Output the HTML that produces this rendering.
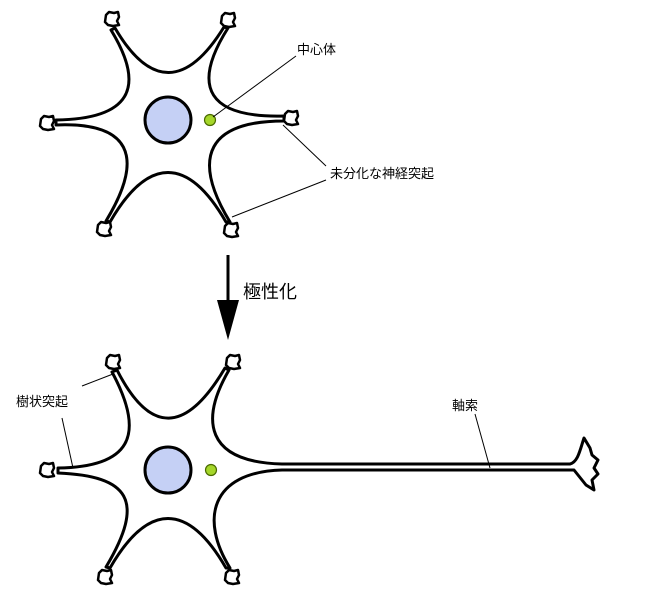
<!DOCTYPE html>
<html><head><meta charset="utf-8"><style>
html,body{margin:0;padding:0;background:#fff;width:647px;height:599px;overflow:hidden}
svg{display:block}
text{font-family:"Liberation Sans","Noto Sans CJK JP",sans-serif;fill:#000}
</style></head><body>
<svg width="647" height="599" viewBox="0 0 647 599" xmlns="http://www.w3.org/2000/svg">
<defs>
<path id="b" d="M-6,-4 L-3,-7 L2,-6 L6,-7 L7,-2 L5,2 L7,6 L1,7 L-4,6 L-7,3 Z" fill="#fff" stroke="#000" stroke-width="2.5" stroke-linejoin="round"/>
</defs>
<g fill="#fff" stroke="#000" stroke-width="3" stroke-linejoin="round">
<path d="M115,28 C150,88 187,87 224,27 L228,28 C190,88 209,118 284,116 L284,121 C209,121 190,156 230,222 L226,222 C188,156 148,156 110,222 L106,221 C146,155 129,122 56,125 L56,120 C129,119 147,89 111,30 Z"/>
<path d="M117,370 C150,435 186,434 225,368 L229,370 C200,420 205,462 282,464 L570,464 C578,462 580,450 584,438 L590,448 L592,455 L598,460 L594,468 L598,474 L592,480 L594,490 L586,485 L574,470 L282,470 C210,472 200,520 230,568 L226,568 C188,502 148,502 110,568 L106,567 C146,500 129,476 58,473 L58,468 C129,467 147,437 112,372 Z"/>
</g>
<use href="#b" x="112" y="19"/><use href="#b" x="228" y="20"/><use href="#b" x="291" y="118"/>
<use href="#b" x="231" y="230"/><use href="#b" x="104" y="229"/><use href="#b" x="47" y="123"/>
<use href="#b" x="113" y="362"/><use href="#b" x="233" y="362"/><use href="#b" x="47" y="470"/>
<use href="#b" x="105" y="577"/><use href="#b" x="232" y="577"/>
<circle cx="168" cy="120" r="23" fill="#c5d0f5" stroke="#000" stroke-width="3"/>
<circle cx="168" cy="470" r="23" fill="#c5d0f5" stroke="#000" stroke-width="3"/>
<circle cx="210" cy="120" r="5.5" fill="#a5d62a" stroke="#4a6a00" stroke-width="1.2"/>
<circle cx="211" cy="470" r="5.5" fill="#a5d62a" stroke="#4a6a00" stroke-width="1.2"/>
<g stroke="#000" stroke-width="1" fill="none">
<line x1="296" y1="56" x2="213" y2="117"/>
<line x1="326" y1="166" x2="283" y2="125"/>
<line x1="326" y1="180" x2="232" y2="217"/>
<line x1="82" y1="386" x2="113" y2="374"/>
<line x1="62" y1="418" x2="73" y2="468"/>
<line x1="475" y1="414" x2="490" y2="468"/>
</g>
<line x1="228" y1="255" x2="228" y2="305" stroke="#000" stroke-width="3"/>
<polygon points="217,300 239,300 228,340" fill="#000"/>
<text x="297" y="54" font-size="13">中心体</text>
<text x="330" y="178" font-size="13">未分化な神経突起</text>
<text x="243" y="298" font-size="18">極性化</text>
<text x="16" y="406" font-size="13">樹状突起</text>
<text x="452" y="410" font-size="13">軸索</text>
</svg>
</body></html>
